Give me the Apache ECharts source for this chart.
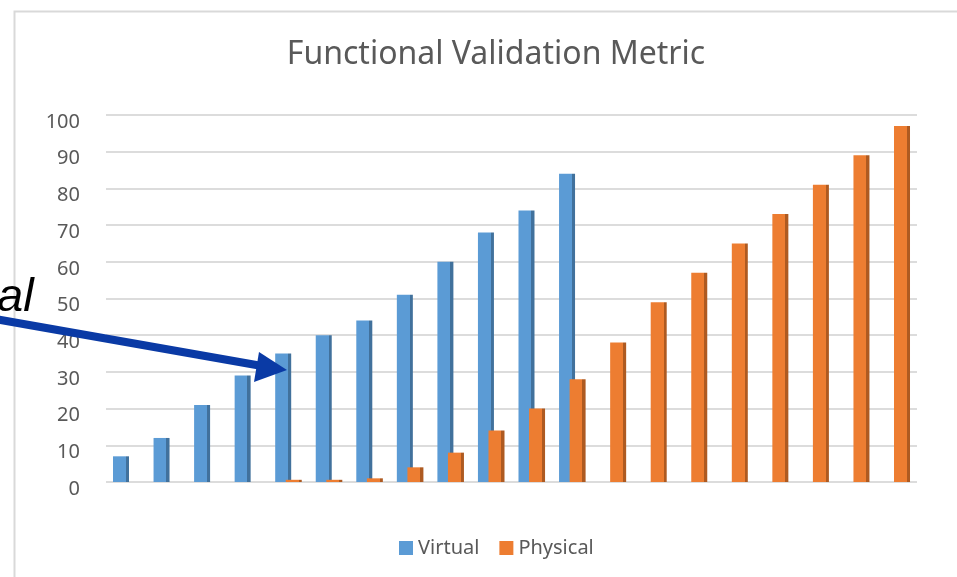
<!DOCTYPE html>
<html>
<head>
<meta charset="utf-8">
<script src="https://cdn.jsdelivr.net/npm/echarts@6/dist/echarts.min.js"></script>
<style>
html,body{margin:0;padding:0;background:#fff;}
#c{width:957px;height:577px;}
</style>
</head>
<body>
<div id="c"></div>
<script>
var categories = ['1','2','3','4','5','6','7','8','9','10','11','12','13','14','15','16','17','18','19','20'];
var virtualValues = [7,12,21,29,35,40,44,51,60,68,74,84,null,null,null,null,null,null,null,null];
var physicalValues = [null,null,null,null,0.6,0.6,1,4,8,14,20,28,38,49,57,65,73,81,89,97];
var yTicks = [0,10,20,30,40,50,60,70,80,90,100];

function sideGrad(front, side){
  return new echarts.graphic.LinearGradient(0,0,1,0,[
    {offset:0,color:front},{offset:0.8,color:front},
    {offset:0.8,color:side},{offset:1,color:side}
  ]);
}

var chart = echarts.init(document.getElementById('c'));
chart.setOption({
  backgroundColor:'#ffffff',
  animation:false,
  title:{
    text:'Functional Validation Metric',
    left:491, textAlign:'center', top:34,
    textStyle:{fontFamily:'Noto Sans',fontSize:32,fontWeight:'normal',color:'#595959'}
  },
  legend:{
    left:394, top:533,
    icon:'rect', itemWidth:14, itemHeight:14, itemGap:20,
    textStyle:{fontFamily:'Noto Sans',fontSize:20,color:'#595959'},
    data:[{name:'Virtual',itemStyle:{color:'#5B9BD5'}},{name:'Physical',itemStyle:{color:'#ED7D31'}}]
  },
  grid:{left:106,right:40,top:115,bottom:95},
  xAxis:{
    type:'category', data:categories,
    axisLine:{show:false}, axisTick:{show:false}, axisLabel:{show:false}
  },
  yAxis:{
    type:'value', min:yTicks[0], max:yTicks[yTicks.length-1], interval:10,
    axisLine:{show:false}, axisTick:{show:false},
    axisLabel:{margin:26,fontFamily:'Noto Sans',fontSize:20,color:'#595959',
      formatter:'{a|{value}}',
      rich:{a:{fontFamily:'Noto Sans',fontSize:20,color:'#595959',padding:[14,0,0,0]}}},
    splitLine:{lineStyle:{color:'#DCDCDC',width:2}}
  },
  series:[
    {name:'Virtual',type:'bar',data:virtualValues,barWidth:16,barGap:'-34%',
     itemStyle:{color:sideGrad('#5B9BD5','#41719C')}},
    {name:'Physical',type:'bar',data:physicalValues,barWidth:16,barGap:'-34%',
     itemStyle:{color:sideGrad('#ED7D31','#AE5A21')}}
  ],
  graphic:[
    {type:'rect',left:12,top:9,shape:{x:0,y:0,width:1000,height:1000},
     style:{fill:'none',stroke:'#D9D9D9',lineWidth:2},z:-10,silent:true},
    {type:'text',left:-3,top:274,
     style:{text:'al',font:'italic 47px "Liberation Sans"',fill:'#000000'},z:100},
    {type:'line',shape:{x1:-5,y1:319,x2:262,y2:366},
     style:{stroke:'#0A3AA5',lineWidth:8},z:100},
    {type:'polygon',shape:{points:[[287,370],[259,352],[254,382]]},
     style:{fill:'#0A3AA5'},z:100}
  ]
});
</script>
</body>
</html>
